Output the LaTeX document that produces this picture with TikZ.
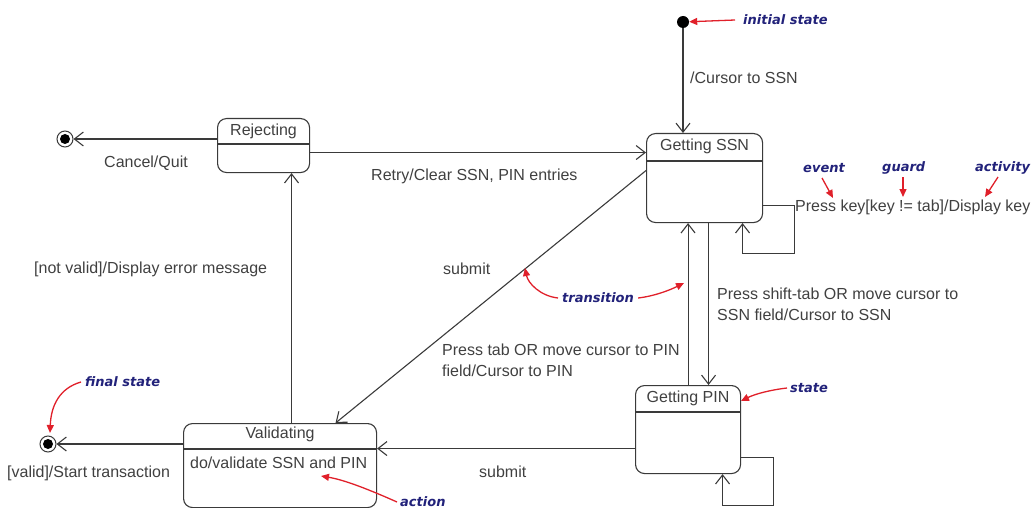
\documentclass[tikz,border=0pt]{standalone}
\usepackage{fontspec}
\setmainfont{Liberation Sans}
\newfontfamily\annfont{DejaVu Sans}
\usetikzlibrary{arrows.meta,calc}
\definecolor{linec}{HTML}{3A3A3A}
\definecolor{txtc}{HTML}{404040}
\definecolor{annc}{HTML}{22227A}
\definecolor{redc}{HTML}{E0202A}
\begin{document}
\begin{tikzpicture}[x=1pt,y=-1pt,
  st/.style={draw=linec, line width=1.1pt, rounded corners=9pt, inner sep=0pt, anchor=north west},
  dv/.style={draw=linec, line width=1.1pt},
  tr/.style={draw=linec, line width=1.1pt, -{Straight Barb[length=9pt,width=14pt,line width=1.1pt]}},
  lbl/.style={text=txtc, font=\fontsize{16}{18}\selectfont, inner sep=0pt, anchor=west},
  ttl/.style={text=txtc, font=\fontsize{16}{18}\selectfont, inner sep=0pt, anchor=center},
  ann/.style={text=annc, font=\annfont\bfseries\itshape\fontsize{13}{15}\selectfont, inner sep=0pt, anchor=west},
  rd/.style={draw=redc, line width=1.3pt, -{Triangle[length=8pt,width=7pt]}},
  initst/.style={circle, fill=black, minimum size=12pt, inner sep=0pt},
  finst/.style={circle, draw=linec, line width=1pt, minimum size=16pt, inner sep=0pt, path picture={\fill[black] (path picture bounding box.center) circle (5pt);}},
]
\useasboundingbox (0,0) rectangle (1033,508);

% states
\node[st, minimum width=92pt, minimum height=54pt] (rej) at (217,118) {};
\draw[dv] ([yshift=-26pt]rej.north west) -- ([yshift=-26pt]rej.north east);
\node[ttl] at ([yshift=-13pt]rej.north) {Rejecting};

\node[st, minimum width=116pt, minimum height=89pt] (ssn) at (646,133) {};
\draw[dv] ([yshift=-28pt]ssn.north west) -- ([yshift=-28pt]ssn.north east);
\node[ttl] at ([yshift=-13pt]ssn.north) {Getting SSN};

\node[st, minimum width=105pt, minimum height=88pt] (pin) at (635,385) {};
\draw[dv] ([yshift=-27pt]pin.north west) -- ([yshift=-27pt]pin.north east);
\node[ttl] at ([yshift=-13pt]pin.north) {Getting PIN};

\node[st, minimum width=193pt, minimum height=84pt] (val) at (183,423) {};
\draw[dv] ([yshift=-26pt]val.north west) -- ([yshift=-26pt]val.north east);
\node[ttl] at ([yshift=-11pt]val.north) {Validating};
\node[lbl] at ([xshift=7pt,yshift=-40pt]val.north west) {do/validate SSN and PIN};

% pseudo states
\node[initst] (init) at (683,22) {};
\node[finst] (f1) at (65,139) {};
\node[finst] (f2) at (48,444) {};

% transitions
\draw[tr] (init) -- (init |- ssn.north);
\node[lbl] at (690,78) {/Cursor to SSN};

\draw[tr] (rej.west |- f1) -- (f1);
\node[lbl] at (104,163) {Cancel/Quit};

\coordinate (r2s) at ([yshift=-7pt]rej.east);
\draw[tr] (r2s) -- (r2s -| ssn.west);
\node[lbl] at (371,176) {Retry/Clear SSN, PIN entries};

\coordinate (v2r) at ([xshift=11.5pt]val.north);
\draw[tr] (v2r) -- (v2r |- rej.south);
\node[lbl] at (34,269) {[not valid]/Display error message};

\draw[tr] ([yshift=7.5pt]ssn.west) -- ([xshift=55.5pt]val.north);
\node[lbl] at (443,269) {submit};

\coordinate (s2p) at ([xshift=4pt]ssn.south);
\draw[tr] (s2p) -- (s2p |- pin.north);
\node[lbl] at (717,294) {Press shift-tab OR move cursor to};
\node[lbl] at (717,315) {SSN field/Cursor to SSN};

\draw[tr] (pin.north) -- (pin.north |- ssn.south);
\node[lbl] at (442,350) {Press tab OR move cursor to PIN};
\node[lbl] at (442,371) {field/Cursor to PIN};

\coordinate (sl) at ([xshift=38pt]ssn.south);
\draw[tr] ([yshift=-27.5pt]ssn.east) -- ++(31,0) -- ++(0,48) -| (sl);
\node[lbl] at (795,207) {Press key[key != tab]/Display key};

\coordinate (p2v) at ([yshift=-19pt]pin.west);
\draw[tr] (p2v) -- (p2v -| val.east);
\node[lbl] at (479,472) {submit};

\coordinate (pl) at ([xshift=34.5pt]pin.south);
\draw[tr] ([yshift=-28pt]pin.east) -- ++(32,0) -- ++(0,48) -| (pl);

\draw[tr] (val.west |- f2) -- (f2);
\node[lbl] at (7,473) {[valid]/Start transaction};

% annotations
\node[ann] (ai) at (743,20) {initial state};
\draw[rd] ([xshift=-8pt]ai.west) -- (init);

\node[ann] (aev) at (803,168) {event};
\draw[rd] (822,178) -- (833,198);
\node[ann] (agu) at (882,168) {guard};
\draw[rd] (903,177) -- (903,197);
\node[ann] (aac) at (975,168) {activity};
\draw[rd] (998,177) -- (985,197);

\node[ann] (atr) at (562,298) {transition};
\draw[rd] ([xshift=-4pt]atr.west) .. controls (540,296) and (528,283) .. (525,268);
\draw[rd] ([xshift=4pt]atr.east) .. controls (655,296) and (670,290) .. (684,283);

\node[ann] (afs) at (85,382) {final state};
\draw[rd] ([xshift=-4pt]afs.west) .. controls (60,388) and (51,405) .. (50,433);

\node[ann] (ast) at (790,388) {state};
\draw[rd] ([xshift=-3pt]ast.west) .. controls (770,390) and (755,394) .. (741,401);

\node[ann] (aac2) at (400,502) {action};
\draw[rd] ([xshift=-3pt]aac2.west) .. controls (370,490) and (345,480) .. (321,476);
\end{tikzpicture}
\end{document}
